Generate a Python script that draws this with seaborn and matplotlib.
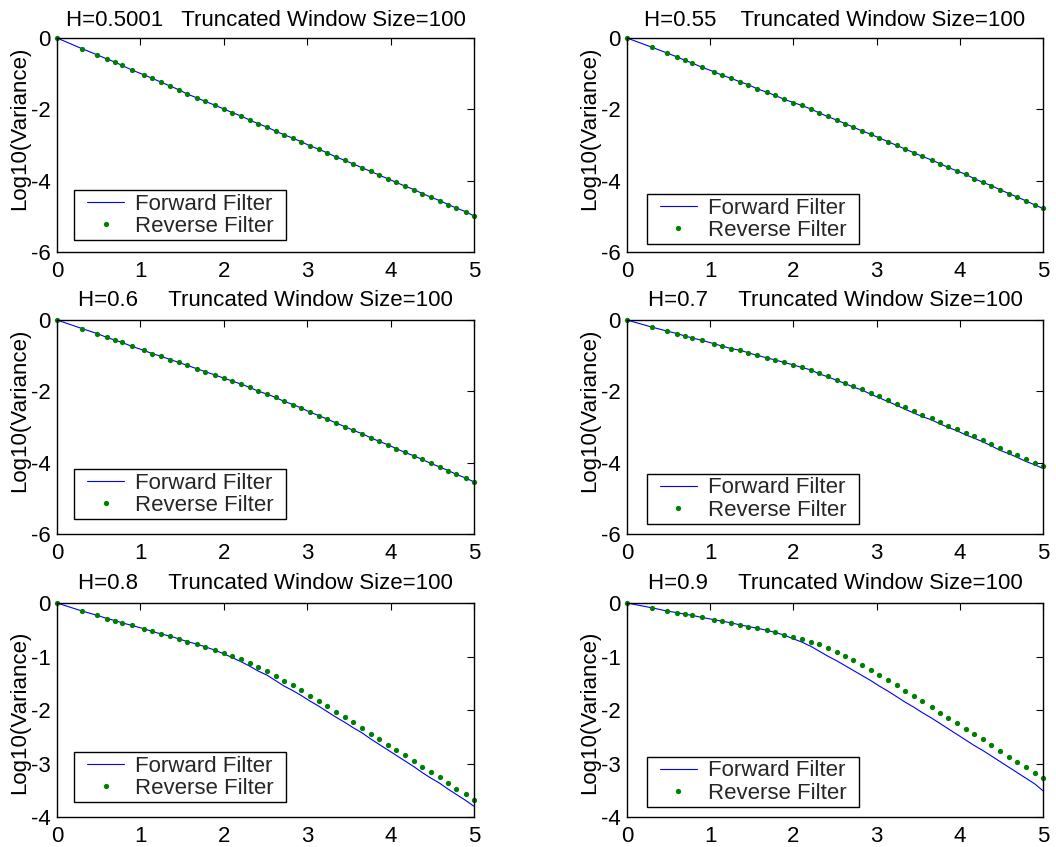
import matplotlib
matplotlib.use("Agg")
import matplotlib.pyplot as plt
import seaborn as sns
from matplotlib.legend_handler import HandlerLine2D

# ---- data -------------------------------------------------------------
# log10 of the aggregation level (shared by every panel)
log_m = [0.00, 0.30, 0.48, 0.60, 0.70, 0.78, 0.90,
         1.04, 1.14, 1.25, 1.36, 1.46, 1.56, 1.68, 1.78, 1.89,
         2.00, 2.10, 2.21, 2.31, 2.41, 2.52, 2.62, 2.72, 2.83, 2.93,
         3.03, 3.14, 3.24, 3.34, 3.45, 3.55, 3.66, 3.76, 3.86, 3.97,
         4.07, 4.17, 4.28, 4.38, 4.48, 4.59, 4.69, 4.79, 4.90, 5.00]

hurst = ["0.5001", "0.55", "0.6", "0.7", "0.8", "0.9"]
window_size = 100

rev_05001 = [0, -0.30, -0.47, -0.59, -0.68, -0.77, -0.90, -1.03, -1.13, -1.24,
             -1.35, -1.45, -1.57, -1.68, -1.78, -1.88, -1.99, -2.09, -2.19, -2.30,
             -2.40, -2.50, -2.61, -2.71, -2.81, -2.91, -3.02, -3.12, -3.22, -3.33,
             -3.43, -3.53, -3.64, -3.74, -3.84, -3.95, -4.05, -4.15, -4.25, -4.36,
             -4.46, -4.56, -4.67, -4.77, -4.87, -4.99]
fwd_05001 = rev_05001

rev_055 = [0, -0.26, -0.42, -0.53, -0.63, -0.70, -0.82, -0.94, -1.04, -1.13,
           -1.23, -1.31, -1.42, -1.52, -1.61, -1.72, -1.81, -1.89, -1.99, -2.10,
           -2.20, -2.30, -2.40, -2.50, -2.61, -2.70, -2.80, -2.91, -3.01, -3.11,
           -3.22, -3.32, -3.42, -3.52, -3.63, -3.73, -3.82, -3.94, -4.05, -4.14,
           -4.25, -4.36, -4.46, -4.56, -4.68, -4.78]
fwd_055 = rev_055

rev_06 = [0, -0.24, -0.38, -0.49, -0.57, -0.63, -0.74, -0.85, -0.94, -1.02,
          -1.11, -1.19, -1.27, -1.37, -1.45, -1.54, -1.63, -1.71, -1.80, -1.89,
          -1.99, -2.08, -2.17, -2.28, -2.37, -2.47, -2.58, -2.68, -2.78, -2.88,
          -2.99, -3.09, -3.19, -3.30, -3.40, -3.50, -3.61, -3.71, -3.81, -3.91,
          -4.02, -4.12, -4.22, -4.33, -4.43, -4.54]
fwd_06 = rev_06

rev_07 = [0, -0.20, -0.31, -0.38, -0.45, -0.50, -0.57, -0.66, -0.73, -0.80,
          -0.85, -0.92, -0.99, -1.06, -1.12, -1.19, -1.26, -1.33, -1.40, -1.50,
          -1.58, -1.67, -1.76, -1.85, -1.94, -2.04, -2.14, -2.25, -2.35, -2.45,
          -2.56, -2.66, -2.75, -2.86, -2.96, -3.06, -3.17, -3.26, -3.37, -3.47,
          -3.59, -3.69, -3.79, -3.90, -4.00, -4.10]
fwd_07 = [0, -0.20, -0.31, -0.38, -0.45, -0.50, -0.57, -0.66, -0.73, -0.80,
          -0.85, -0.92, -0.99, -1.06, -1.12, -1.19, -1.26, -1.33, -1.40, -1.51,
          -1.59, -1.69, -1.78, -1.88, -1.97, -2.08, -2.18, -2.29, -2.39, -2.50,
          -2.61, -2.71, -2.80, -2.91, -3.01, -3.11, -3.22, -3.31, -3.42, -3.53,
          -3.65, -3.75, -3.85, -3.96, -4.06, -4.16]

rev_08 = [0, -0.15, -0.23, -0.29, -0.33, -0.37, -0.42, -0.48, -0.53, -0.58,
          -0.62, -0.67, -0.72, -0.77, -0.82, -0.88, -0.93, -0.99, -1.05, -1.12,
          -1.20, -1.27, -1.36, -1.45, -1.54, -1.63, -1.73, -1.83, -1.93, -2.03,
          -2.13, -2.23, -2.33, -2.44, -2.54, -2.65, -2.75, -2.85, -2.95, -3.06,
          -3.16, -3.26, -3.37, -3.47, -3.57, -3.68]
fwd_08 = [0, -0.15, -0.23, -0.29, -0.33, -0.37, -0.42, -0.48, -0.53, -0.58,
          -0.62, -0.67, -0.72, -0.77, -0.82, -0.88, -0.95, -1.02, -1.10, -1.18,
          -1.27, -1.35, -1.45, -1.55, -1.64, -1.73, -1.83, -1.93, -2.03, -2.13,
          -2.23, -2.33, -2.43, -2.54, -2.64, -2.75, -2.85, -2.95, -3.06, -3.17,
          -3.27, -3.37, -3.48, -3.58, -3.69, -3.80]

rev_09 = [0, -0.09, -0.15, -0.18, -0.21, -0.23, -0.27, -0.31, -0.34, -0.37,
          -0.41, -0.44, -0.47, -0.51, -0.55, -0.59, -0.63, -0.67, -0.73, -0.77,
          -0.84, -0.92, -0.99, -1.07, -1.16, -1.25, -1.35, -1.44, -1.54, -1.64,
          -1.74, -1.84, -1.94, -2.05, -2.15, -2.25, -2.35, -2.45, -2.55, -2.65,
          -2.77, -2.87, -2.97, -3.07, -3.18, -3.28]
fwd_09 = [0, -0.09, -0.15, -0.18, -0.21, -0.23, -0.27, -0.31, -0.34, -0.37,
          -0.41, -0.44, -0.47, -0.51, -0.55, -0.60, -0.67, -0.73, -0.81, -0.90,
          -0.99, -1.08, -1.17, -1.26, -1.36, -1.45, -1.55, -1.65, -1.75, -1.85,
          -1.95, -2.05, -2.15, -2.25, -2.35, -2.46, -2.56, -2.66, -2.76, -2.86,
          -2.96, -3.07, -3.17, -3.27, -3.38, -3.51]

forward = [fwd_05001, fwd_055, fwd_06, fwd_07, fwd_08, fwd_09]
reverse = [rev_05001, rev_055, rev_06, rev_07, rev_08, rev_09]
title_gap = [3, 4, 5, 5, 5, 5]

# ---- style --------------------------------------------------------------
sns.set_style("white")
plt.rcParams["font.family"] = ["Liberation Sans", "DejaVu Sans"]
plt.rcParams["axes.unicode_minus"] = False
FS = 16

fig = plt.figure(figsize=(10.56, 8.47), dpi=100)
fig.patch.set_facecolor("white")

W, H = 1056.0, 847.0
col_left = [57 / W, 627 / W]
col_width = [417 / W, 416 / W]
row_bottom = [1 - 252 / H, 1 - 534 / H, 1 - 817 / H]
row_height = 214 / H
title_pad = [8.5, 10, 10]
ylabel_y = [0.58, 0.58, 0.49]
legend_anchor = [(0.041, 0.056), (0.047, 0.037),
                 (0.041, 0.070), (0.047, 0.047),
                 (0.041, 0.070), (0.047, 0.047)]

line_handler = HandlerLine2D(xpad=0.44)

for i in range(6):
    r, c = divmod(i, 2)
    ax = fig.add_axes([col_left[c], row_bottom[r], col_width[c], row_height])
    sns.lineplot(x=log_m, y=forward[i], ax=ax, color=(0, 0, 1), linewidth=0.8,
                 estimator=None, sort=False, clip_on=False, legend=False)
    sns.lineplot(x=log_m, y=reverse[i], ax=ax, color=(0, 0.5, 0), linestyle="",
                 marker="o", markersize=3.8, markeredgewidth=0,
                 estimator=None, sort=False, clip_on=False, legend=False)

    ax.set_xlim(0, 5)
    ax.set_xticks(range(0, 6))
    if r < 2:
        ax.set_ylim(-6, 0)
        ax.set_yticks([-6, -4, -2, 0])
    else:
        ax.set_ylim(-4, 0)
        ax.set_yticks([-4, -3, -2, -1, 0])

    ax.tick_params(direction="in", length=5, width=0.8, top=True, right=True,
                   labelsize=FS, colors="black")
    ax.tick_params(axis="x", pad=6.5)
    ax.tick_params(axis="y", pad=4.5)
    for sp in ax.spines.values():
        sp.set_visible(True)
        sp.set_color("black")
        sp.set_linewidth(1.0)

    ax.set_xlabel("")
    ax.set_ylabel("Log10(Variance)", fontsize=FS, color="black")
    ax.yaxis.set_label_coords(-0.065, ylabel_y[r])

    gap = " " * title_gap[i]
    ax.set_title(f"H={hurst[i]}{gap}Truncated Window Size={window_size}",
                 fontsize=FS, pad=title_pad[r], color="black")

    bx, by = legend_anchor[i]
    bw = 212 / 417 if c == 0 else 212 / 416
    leg = ax.legend(handles=ax.lines[:2],
                    labels=["Forward Filter", "Reverse Filter"],
                    loc="lower left", bbox_to_anchor=(bx, by, bw, 0.0),
                    mode="expand", borderaxespad=0, fontsize=FS,
                    frameon=True, fancybox=False, shadow=False, framealpha=1,
                    borderpad=0.15, labelspacing=0.05, handlelength=2.1,
                    handletextpad=0.5, numpoints=1,
                    handler_map={ax.lines[0]: line_handler,
                                 ax.lines[1]: line_handler})
    frame = leg.get_frame()
    frame.set_edgecolor("black")
    frame.set_linewidth(1.0)
    frame.set_facecolor("white")

fig.savefig("out.png", dpi=100, facecolor="white")
